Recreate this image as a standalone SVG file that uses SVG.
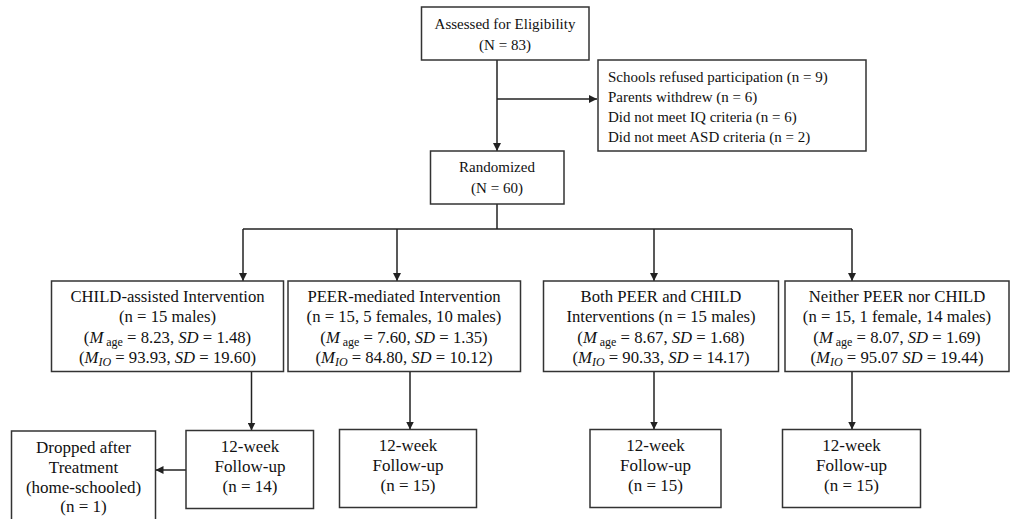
<svg xmlns="http://www.w3.org/2000/svg" width="1010" height="519" viewBox="0 0 1010 519">
<defs>
<marker id="ah" viewBox="0 0 10 10" refX="10" refY="5" markerWidth="8" markerHeight="8" markerUnits="userSpaceOnUse" orient="auto">
<path d="M0,0 L10,5 L0,10 z" fill="#222"/>
</marker>
<style>
.box{fill:#fff;stroke:#333;stroke-width:1.5}
.t{font-family:"Liberation Serif","Times New Roman",serif;font-size:15px;fill:#111;text-anchor:middle}
.tl{font-family:"Liberation Serif","Times New Roman",serif;font-size:15px;fill:#111}
.m{font-size:16.7px}
.b{font-size:17px}
.i{font-style:italic}
.sub{font-size:12px}
.c{fill:none;stroke:#222;stroke-width:1.5}
.ca{fill:none;stroke:#222;stroke-width:1.5;marker-end:url(#ah)}
</style>
</defs>
<rect width="1010" height="519" fill="#fff"/>
<g id="connectors">
<path class="ca" d="M497,60 V151"/>
<path class="ca" d="M497,99 H597"/>
<path class="c" d="M497,204 V229"/>
<path class="c" d="M243,229 H852"/>
<path class="ca" d="M243,229 V281"/>
<path class="ca" d="M397,229 V281"/>
<path class="ca" d="M654,229 V281"/>
<path class="ca" d="M852,229 V281"/>
<path class="ca" d="M251.5,371.5 V430.5"/>
<path class="ca" d="M410,371.5 V429.5"/>
<path class="ca" d="M654,371.5 V429.5"/>
<path class="ca" d="M852,371.5 V429.5"/>
<path class="ca" d="M186,470 H155.5"/>
</g>
<g id="assessed">
<rect class="box" x="421.5" y="7" width="167.5" height="53"/>
<text class="t" x="505" y="29">Assessed for Eligibility</text>
<text class="t" x="505" y="50">(N = 83)</text>
</g>
<g id="excluded">
<rect class="box" x="598" y="60" width="268" height="91"/>
<text class="tl" x="608" y="82">Schools refused participation (n = 9)</text>
<text class="tl" x="608" y="102">Parents withdrew (n = 6)</text>
<text class="tl" x="608" y="122">Did not meet IQ criteria (n = 6)</text>
<text class="tl" x="608" y="142">Did not meet ASD criteria (n = 2)</text>
</g>
<g id="randomized">
<rect class="box" x="430.5" y="151" width="133.5" height="53"/>
<text class="t" x="497" y="172">Randomized</text>
<text class="t" x="497" y="193">(N = 60)</text>
</g>
<g id="child">
<rect class="box" x="51.5" y="281" width="232" height="90.5"/>
<text class="t m" x="167.5" y="302">CHILD-assisted Intervention</text>
<text class="t m" x="167.5" y="322">(n = 15 males)</text>
<text class="t m" x="167.5" y="343">(<tspan class="i">M</tspan><tspan class="sub" dy="3"> age</tspan><tspan dy="-3"> = 8.23, </tspan><tspan class="i">SD</tspan> = 1.48)</text>
<text class="t m" x="167.5" y="363">(<tspan class="i">M</tspan><tspan class="i sub" dy="3">IO</tspan><tspan dy="-3"> = 93.93, </tspan><tspan class="i">SD</tspan> = 19.60)</text>
</g>
<g id="peer">
<rect class="box" x="288" y="281" width="232.5" height="90.5"/>
<text class="t m" x="404" y="302">PEER-mediated Intervention</text>
<text class="t m" x="404" y="322">(n = 15, 5 females, 10 males)</text>
<text class="t m" x="404" y="343">(<tspan class="i">M</tspan><tspan class="sub" dy="3"> age</tspan><tspan dy="-3"> = 7.60, </tspan><tspan class="i">SD</tspan> = 1.35)</text>
<text class="t m" x="404" y="363">(<tspan class="i">M</tspan><tspan class="i sub" dy="3">IO</tspan><tspan dy="-3"> = 84.80, </tspan><tspan class="i">SD</tspan> = 10.12)</text>
</g>
<g id="both">
<rect class="box" x="543.5" y="281" width="235" height="90.5"/>
<text class="t m" x="661" y="302">Both PEER and CHILD</text>
<text class="t m" x="661" y="322">Interventions (n = 15 males)</text>
<text class="t m" x="661" y="343">(<tspan class="i">M</tspan><tspan class="sub" dy="3"> age</tspan><tspan dy="-3"> = 8.67, </tspan><tspan class="i">SD</tspan> = 1.68)</text>
<text class="t m" x="661" y="363">(<tspan class="i">M</tspan><tspan class="i sub" dy="3">IO</tspan><tspan dy="-3"> = 90.33, </tspan><tspan class="i">SD</tspan> = 14.17)</text>
</g>
<g id="neither">
<rect class="box" x="785" y="281" width="224" height="90.5"/>
<text class="t m" x="897" y="302">Neither PEER nor CHILD</text>
<text class="t m" x="897" y="322">(n = 15, 1 female, 14 males)</text>
<text class="t m" x="897" y="343">(<tspan class="i">M</tspan><tspan class="sub" dy="3"> age</tspan><tspan dy="-3"> = 8.07, </tspan><tspan class="i">SD</tspan> = 1.69)</text>
<text class="t m" x="897" y="363">(<tspan class="i">M</tspan><tspan class="i sub" dy="3">IO</tspan><tspan dy="-3"> = 95.07 </tspan><tspan class="i">SD</tspan> = 19.44)</text>
</g>
<g id="dropped">
<rect class="box" x="11.5" y="431" width="144" height="100"/>
<text class="t b" x="83.5" y="453">Dropped after</text>
<text class="t b" x="83.5" y="473">Treatment</text>
<text class="t b" x="83.5" y="493">(home-schooled)</text>
<text class="t b" x="83.5" y="512">(n = 1)</text>
</g>
<g id="followup1">
<rect class="box" x="186" y="430.5" width="127.5" height="78"/>
<text class="t b" x="250" y="452">12-week</text>
<text class="t b" x="250" y="472">Follow-up</text>
<text class="t b" x="250" y="492">(n = 14)</text>
</g>
<g id="followup2">
<rect class="box" x="339.5" y="429.5" width="137" height="78"/>
<text class="t b" x="408" y="451">12-week</text>
<text class="t b" x="408" y="471">Follow-up</text>
<text class="t b" x="408" y="491">(n = 15)</text>
</g>
<g id="followup3">
<rect class="box" x="590" y="429.5" width="131" height="78"/>
<text class="t b" x="655.5" y="451">12-week</text>
<text class="t b" x="655.5" y="471">Follow-up</text>
<text class="t b" x="655.5" y="491">(n = 15)</text>
</g>
<g id="followup4">
<rect class="box" x="782.5" y="429.5" width="138" height="78"/>
<text class="t b" x="851.5" y="451">12-week</text>
<text class="t b" x="851.5" y="471">Follow-up</text>
<text class="t b" x="851.5" y="491">(n = 15)</text>
</g>
</svg>
